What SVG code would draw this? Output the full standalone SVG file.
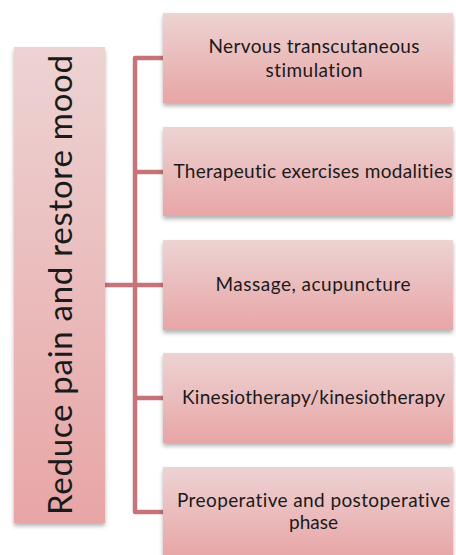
<svg xmlns="http://www.w3.org/2000/svg" width="456" height="555" viewBox="0 0 456 555">
  <style>
    .box { fill: url(#pinkGrad); filter: url(#shadow); }
    .lbl { font-family: Lato, "Open Sans", "Liberation Sans", sans-serif; font-size: 19px; fill: #1a1a1a; text-anchor: middle; font-variant-ligatures: none; font-feature-settings: "liga" 0, "clig" 0; }
    .big { font-family: Lato, "Open Sans", "Liberation Sans", sans-serif; font-size: 33px; fill: #1a1a1a; text-anchor: middle; font-variant-ligatures: none; font-feature-settings: "liga" 0, "clig" 0; }
    .conn { stroke: #c6737a; stroke-width: 4.5; fill: none; stroke-linejoin: round; }
  </style>
  <defs>
    <linearGradient id="pinkGrad" x1="0" y1="0" x2="0" y2="1">
      <stop offset="0" stop-color="#edd3d3"/>
      <stop offset="1" stop-color="#e8a5a6"/>
    </linearGradient>
    <filter id="shadow" x="-10%" y="-10%" width="120%" height="130%">
      <feDropShadow dx="0" dy="3" stdDeviation="2" flood-color="#000" flood-opacity="0.3"/>
    </filter>
  </defs>
  <rect width="456" height="555" fill="#ffffff"/>

  <g id="connectors">
    <line class="conn" x1="105" y1="285" x2="163" y2="285"/>
    <polyline class="conn" points="163,58 135,58 135,512 163,512"/>
    <line class="conn" x1="135" y1="172" x2="163" y2="172"/>
    <line class="conn" x1="135" y1="398" x2="163" y2="398"/>
  </g>

  <g id="root">
    <rect class="box" x="14" y="47" width="91" height="476"/>
    <text class="big" transform="translate(72,285) rotate(-90)" x="0" y="0" textLength="460">Reduce pain and restore mood</text>
  </g>

  <g id="n1">
    <rect class="box" x="163" y="13" width="290" height="90"/>
    <text class="lbl" x="314" y="53" textLength="211">Nervous transcutaneous</text>
    <text class="lbl" x="314" y="77" textLength="97">stimulation</text>
  </g>

  <g id="n2">
    <rect class="box" x="163" y="127" width="290" height="89"/>
    <text class="lbl" x="313" y="178" textLength="279">Therapeutic exercises modalities</text>
  </g>

  <g id="n3">
    <rect class="box" x="163" y="240" width="290" height="90"/>
    <text class="lbl" x="313" y="291" textLength="195">Massage, acupuncture</text>
  </g>

  <g id="n4">
    <rect class="box" x="163" y="353" width="290" height="90"/>
    <text class="lbl" x="313.5" y="404" textLength="263">Kinesiotherapy/kinesiotherapy</text>
  </g>

  <g id="n5">
    <rect class="box" x="163" y="467" width="290" height="92"/>
    <text class="lbl" x="313.5" y="507" textLength="273">Preoperative and postoperative</text>
    <text class="lbl" x="313.5" y="529" textLength="49">phase</text>
  </g>
</svg>
